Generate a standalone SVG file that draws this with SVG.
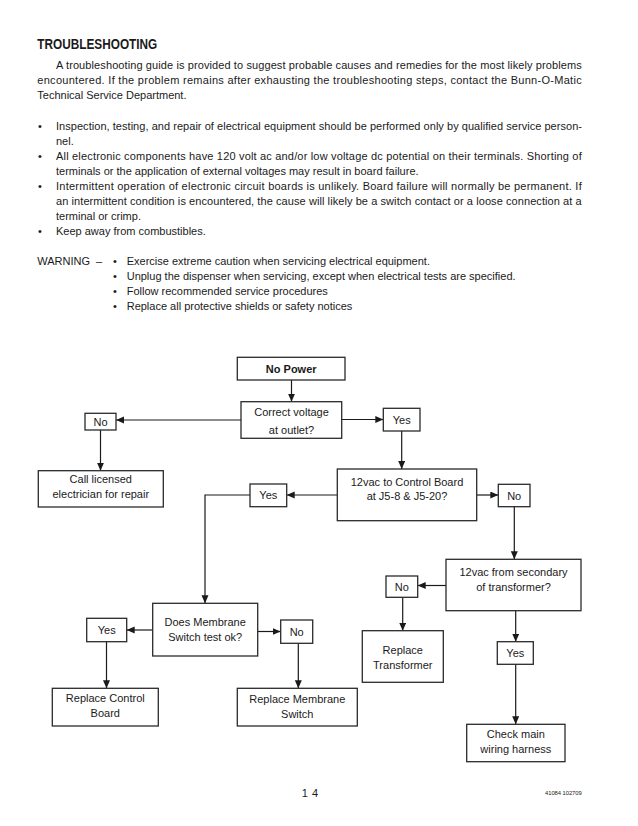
<svg xmlns="http://www.w3.org/2000/svg" width="638" height="826" viewBox="0 0 638 826">
<style>
text{font-family:"Liberation Sans",Arial,sans-serif;fill:#1a1a1a}
.b{font-size:11px}
.t{font-size:14px;font-weight:bold}
.n{font-size:11px;text-anchor:middle}
.nb{font-size:11px;text-anchor:middle;font-weight:bold}
.box{fill:#fff;stroke:#2a2a2a;stroke-width:1.3}
.c path{fill:none;stroke:#1a1a1a;stroke-width:1.2;marker-end:url(#ah)}
</style>
<defs>
<marker id="ah" markerUnits="userSpaceOnUse" markerWidth="9" markerHeight="8" refX="8" refY="3.5" orient="auto">
<path d="M0,0 L8,3.5 L0,7 z" fill="#1a1a1a"/>
</marker>
</defs>
<rect width="638" height="826" fill="#fff"/>

<g id="textblock">
<text class="t" x="37.3" y="49" textLength="120" lengthAdjust="spacingAndGlyphs">TROUBLESHOOTING</text>
<text class="b" x="56" y="68.5" textLength="525.7">A troubleshooting guide is provided to suggest probable causes and remedies for the most likely problems</text>
<text class="b" x="37.3" y="84" textLength="544.4">encountered. If the problem remains after exhausting the troubleshooting steps, contact the Bunn-O-Matic</text>
<text class="b" x="37.3" y="99">Technical Service Department.</text>
<text class="b" x="38" y="130">•</text>
<text class="b" x="56" y="130" textLength="526">Inspection, testing, and repair of electrical equipment should be performed only by qualified service person-</text>
<text class="b" x="56" y="145">nel.</text>
<text class="b" x="38" y="160">•</text>
<text class="b" x="56" y="160" textLength="525.7">All electronic components have 120 volt ac and/or low voltage dc potential on their terminals. Shorting of</text>
<text class="b" x="56" y="175">terminals or the application of external voltages may result in board failure.</text>
<text class="b" x="38" y="190">•</text>
<text class="b" x="56" y="190" textLength="525.7">Intermittent operation of electronic circuit boards is unlikely. Board failure will normally be permanent. If</text>
<text class="b" x="56" y="205" textLength="525.7">an intermittent condition is encountered, the cause will likely be a switch contact or a loose connection at a</text>
<text class="b" x="56" y="220">terminal or crimp.</text>
<text class="b" x="38" y="235">•</text>
<text class="b" x="56" y="235">Keep away from combustibles.</text>
<text class="b" x="37.3" y="264.5">WARNING</text>
<text class="b" x="96" y="264.5">–</text>
<text class="b" x="113" y="264.5">•</text>
<text class="b" x="126.7" y="264.5">Exercise extreme caution when servicing electrical equipment.</text>
<text class="b" x="113" y="280">•</text>
<text class="b" x="126.7" y="280">Unplug the dispenser when servicing, except when electrical tests are specified.</text>
<text class="b" x="113" y="295">•</text>
<text class="b" x="126.7" y="295">Follow recommended service procedures</text>
<text class="b" x="113" y="310">•</text>
<text class="b" x="126.7" y="310">Replace all protective shields or safety notices</text>
</g>

<g class="c" id="connectors">
<path d="M291.5,380 V401.7"/>
<path d="M241,420 H116"/>
<path d="M341.5,419.5 H383.3"/>
<path d="M100.5,430 V470.7"/>
<path d="M401.7,431 V469"/>
<path d="M337.3,495 H286.7"/>
<path d="M476.7,495 H498.3"/>
<path d="M250,495 H205 V603.3"/>
<path d="M514.3,506.7 V559.3"/>
<path d="M152.7,630 H126.7"/>
<path d="M257.7,631.5 H280.7"/>
<path d="M106.5,641.7 V688.3"/>
<path d="M298.3,643.3 V688.3"/>
<path d="M446,585.5 H417.7"/>
<path d="M402.7,597.3 V630.7"/>
<path d="M515.7,610.7 V641.7"/>
<path d="M515.7,664.3 V724.3"/>
</g>

<g id="no-power"><rect class="box" x="237.3" y="357.3" width="107.7" height="22.7"/><text class="nb" x="291.2" y="373">No Power</text></g>
<g id="correct-voltage"><rect class="box" x="241" y="401.7" width="100.7" height="36.6"/><text class="n" x="291.5" y="415.5">Correct voltage</text><text class="n" x="291.5" y="434">at outlet?</text></g>
<g id="no-1"><rect class="box" x="85" y="413.3" width="31" height="16.7"/><text class="n" x="100.5" y="425.5">No</text></g>
<g id="yes-1"><rect class="box" x="383.3" y="408.3" width="36.7" height="22.7"/><text class="n" x="401.7" y="423.7">Yes</text></g>
<g id="call-electrician"><rect class="box" x="38.3" y="470.7" width="125" height="36.3"/><text class="n" x="100.8" y="482.5">Call licensed</text><text class="n" x="100.8" y="497.5">electrician for repair</text></g>
<g id="control-board-12vac"><rect class="box" x="337.3" y="469" width="139.4" height="51.7"/><text class="n" x="407" y="485.5">12vac to Control Board</text><text class="n" x="407" y="500">at J5-8 &amp; J5-20?</text></g>
<g id="yes-2"><rect class="box" x="250" y="484" width="36.7" height="22.7"/><text class="n" x="268.3" y="499.3">Yes</text></g>
<g id="no-2"><rect class="box" x="498.3" y="484.3" width="31.7" height="22.4"/><text class="n" x="514.2" y="499.5">No</text></g>
<g id="membrane-test"><rect class="box" x="152.7" y="603.3" width="105" height="52.7"/><text class="n" x="205.2" y="625.5">Does Membrane</text><text class="n" x="205.2" y="640.5">Switch test ok?</text></g>
<g id="yes-3"><rect class="box" x="86.7" y="618.3" width="40" height="23.4"/><text class="n" x="106.7" y="634">Yes</text></g>
<g id="no-3"><rect class="box" x="280.7" y="620" width="32" height="23.3"/><text class="n" x="296.7" y="635.5">No</text></g>
<g id="replace-control-board"><rect class="box" x="52.3" y="688.3" width="106" height="37.7"/><text class="n" x="105.3" y="702">Replace Control</text><text class="n" x="105.3" y="716.5">Board</text></g>
<g id="replace-membrane"><rect class="box" x="237.3" y="688.3" width="120" height="37.7"/><text class="n" x="297.3" y="703">Replace Membrane</text><text class="n" x="297.3" y="717.5">Switch</text></g>
<g id="transformer-secondary"><rect class="box" x="446" y="559.3" width="135" height="51.4"/><text class="n" x="513.5" y="576">12vac from secondary</text><text class="n" x="513.5" y="590.5">of transformer?</text></g>
<g id="no-4"><rect class="box" x="386" y="576" width="31.7" height="21.3"/><text class="n" x="401.8" y="590.5">No</text></g>
<g id="replace-transformer"><rect class="box" x="362.3" y="630.7" width="81" height="51.6"/><text class="n" x="402.8" y="654">Replace</text><text class="n" x="402.8" y="669">Transformer</text></g>
<g id="yes-4"><rect class="box" x="497.3" y="641.7" width="36" height="22.6"/><text class="n" x="515.3" y="657">Yes</text></g>
<g id="check-harness"><rect class="box" x="466.7" y="724.3" width="98.3" height="37.4"/><text class="n" x="515.8" y="738">Check main</text><text class="n" x="515.8" y="752.5">wiring harness</text></g>

<g id="footer">
<text x="301.7" y="797" style="font-size:11px" textLength="16.5">14</text>
<text x="545" y="795" style="font-size:5.8px" textLength="36.7">41084 102709</text>
</g>
</svg>
